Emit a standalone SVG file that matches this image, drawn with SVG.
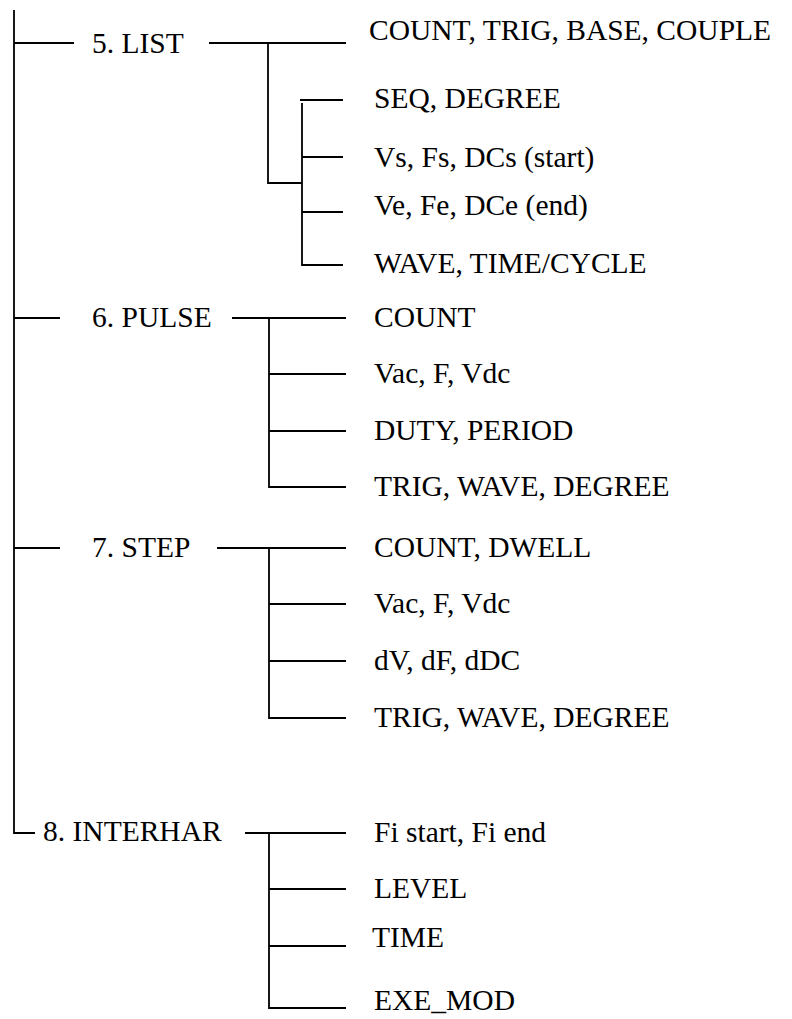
<svg xmlns="http://www.w3.org/2000/svg" width="792" height="1019" viewBox="0 0 792 1019">
<style>
.ln{stroke:#000;stroke-width:1.8;fill:none;stroke-linecap:butt}
.t{font-family:'Liberation Serif','Times New Roman','DejaVu Serif',serif;font-size:29.5px;fill:#000}
</style>
<rect width="792" height="1019" fill="#fff"/>
<g id="connectors" class="ln">
<path d="M14,10 V833 H35"/>
<path d="M14,43 H74"/>
<path d="M14,318 H60"/>
<path d="M14,548 H60"/>
<path d="M209,43 H346"/>
<path d="M268,43 V183 H302"/>
<path d="M300,100 H343"/>
<path d="M302,103 V265 H343"/>
<path d="M302,157 H343"/>
<path d="M302,212 H343"/>
<path d="M232,318 H346"/>
<path d="M269,318 V487 H346"/>
<path d="M269,374 H346"/>
<path d="M269,431 H346"/>
<path d="M217,548 H346"/>
<path d="M269,548 V718 H346"/>
<path d="M269,604 H346"/>
<path d="M269,661 H346"/>
<path d="M245,833 H346"/>
<path d="M269,833 V1008 H346"/>
<path d="M269,889 H346"/>
<path d="M269,946 H346"/>
</g>
<g class="t" font-family="Liberation Serif, Times New Roman, serif">
<g id="node-list"><text x="92" y="53">5. LIST</text></g>
<g id="node-list-1"><text x="369" y="40">COUNT, TRIG, BASE, COUPLE</text></g>
<g id="node-list-2"><text x="374" y="108">SEQ, DEGREE</text></g>
<g id="node-list-3"><text x="374" y="167">Vs, Fs, DCs (start)</text></g>
<g id="node-list-4"><text x="374" y="215">Ve, Fe, DCe (end)</text></g>
<g id="node-list-5"><text x="374" y="273">WAVE, TIME/CYCLE</text></g>
<g id="node-pulse"><text x="92" y="327">6. PULSE</text></g>
<g id="node-pulse-1"><text x="374" y="327">COUNT</text></g>
<g id="node-pulse-2"><text x="374" y="383">Vac, F, Vdc</text></g>
<g id="node-pulse-3"><text x="374" y="440">DUTY, PERIOD</text></g>
<g id="node-pulse-4"><text x="374" y="496">TRIG, WAVE, DEGREE</text></g>
<g id="node-step"><text x="92" y="557">7. STEP</text></g>
<g id="node-step-1"><text x="374" y="557">COUNT, DWELL</text></g>
<g id="node-step-2"><text x="374" y="613">Vac, F, Vdc</text></g>
<g id="node-step-3"><text x="374" y="670">dV, dF, dDC</text></g>
<g id="node-step-4"><text x="374" y="727">TRIG, WAVE, DEGREE</text></g>
<g id="node-interhar"><text x="43" y="841">8. INTERHAR</text></g>
<g id="node-interhar-1"><text x="374" y="842">Fi start, Fi end</text></g>
<g id="node-interhar-2"><text x="374" y="898">LEVEL</text></g>
<g id="node-interhar-3"><text x="372" y="947">TIME</text></g>
<g id="node-interhar-4"><text x="374" y="1010">EXE_MOD</text></g>
</g>
</svg>
